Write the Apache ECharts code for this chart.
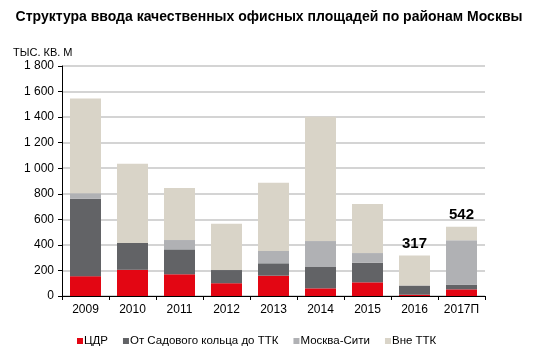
<!DOCTYPE html>
<html><head><meta charset="utf-8">
<script src="https://cdn.jsdelivr.net/npm/echarts@6/dist/echarts.min.js"></script>
<style>html,body{margin:0;padding:0;background:#fff}#c{width:543px;height:354px}</style>
</head><body><div id="c"></div>
<script>
var categories = ['2009','2010','2011','2012','2013','2014','2015','2016','2017П'];
var cdr = [155, 205, 170, 100, 159, 60, 107, 10, 52];
var sadTtk = [605, 210, 195, 103, 97, 167, 154, 72, 37];
var city = [45, 0, 73, 0, 96, 203, 75, 0, 347];
var outTtk = [740, 620, 407, 363, 535, 973, 384, 235, 106];
var labeledTotals = {7: 317, 8: 542};
var yTicks = [0, 200, 400, 600, 800, 1000, 1200, 1400, 1600, 1800];

var chart = echarts.init(document.getElementById('c'));
var font = 'Liberation Sans, Arial, sans-serif';
function fmt(v){ var s = String(v); return s.length > 3 ? s.slice(0, s.length-3) + ' ' + s.slice(-3) : s; }
chart.setOption({
  animation: false,
  title: [{
    text: 'Структура ввода качественных офисных площадей по районам Москвы',
    left: 264, textAlign: 'center', top: 5,
    textStyle: {fontFamily: font, fontSize: 14, fontWeight: 'bold', color: '#000'}
  }, {
    text: 'ТЫС. КВ. М', left: 8, top: 42,
    textStyle: {fontFamily: font, fontSize: 11, fontWeight: 'normal', color: '#000'}
  }],
  grid: {left: 62, right: 58, top: 66, bottom: 58},
  legend: {
    bottom: 2, left: 72, itemWidth: 6, itemHeight: 6, itemGap: 15,
    icon: 'rect',
    textStyle: {fontFamily: font, fontSize: 11.5, color: '#000', padding: [0,0,0,-4]},
    data: ['ЦДР', 'От Садового кольца до ТТК', 'Москва-Сити', 'Вне ТТК']
  },
  xAxis: {
    type: 'category', data: categories,
    axisLine: {lineStyle: {color: '#000', width: 1}},
    axisTick: {show: true, length: 4, lineStyle: {color: '#000'}},
    axisLabel: {fontFamily: font, fontSize: 12, color: '#000', margin: 8}
  },
  yAxis: {
    type: 'value', min: yTicks[0], max: yTicks[yTicks.length-1], interval: 200,
    axisLine: {show: true, lineStyle: {color: '#000', width: 1}},
    axisTick: {show: true, length: 4, inside: false, lineStyle: {color: '#000'}},
    axisLabel: {fontFamily: font, fontSize: 12, color: '#000', margin: 8, formatter: fmt},
    splitLine: {lineStyle: {color: '#d4d4d4', width: 2}}
  },
  series: [
    {name: 'ЦДР', type: 'bar', stack: 't', data: cdr, barWidth: 31, itemStyle: {color: '#e30613'}},
    {name: 'От Садового кольца до ТТК', type: 'bar', stack: 't', data: sadTtk, itemStyle: {color: '#626366'}},
    {name: 'Москва-Сити', type: 'bar', stack: 't', data: city, itemStyle: {color: '#b0b1b4'}},
    {name: 'Вне ТТК', type: 'bar', stack: 't', data: outTtk, itemStyle: {color: '#d9d4c8'},
     label: {show: true, position: 'top', distance: 4, fontFamily: font, fontSize: 15, fontWeight: 'bold', color: '#000',
       formatter: function(p){ return labeledTotals[p.dataIndex] !== undefined ? String(cdr[p.dataIndex]+sadTtk[p.dataIndex]+city[p.dataIndex]+outTtk[p.dataIndex]) : ''; }}}
  ]
});
</script></body></html>
